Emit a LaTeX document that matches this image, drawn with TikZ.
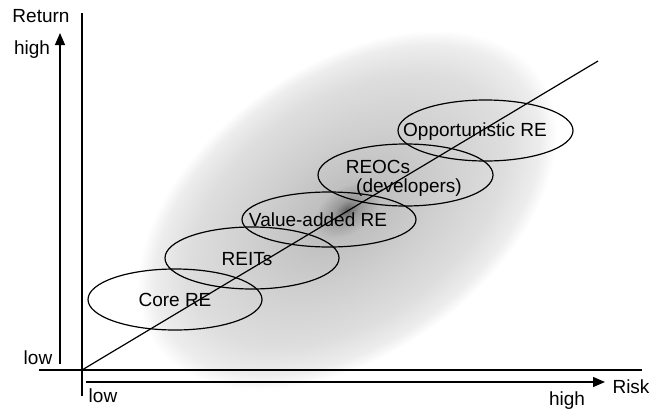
\documentclass[tikz,border=0pt]{standalone}
\usepackage{fontspec}
\setmainfont{Liberation Sans}
\usetikzlibrary{arrows.meta}

\pgfdeclareradialshading{haze}{\pgfpoint{0bp}{0bp}}{%
  color(0bp)=(black!62); color(1.5bp)=(black!40); color(4bp)=(black!25);
  color(11bp)=(black!19); color(19bp)=(black!13); color(23bp)=(black!7);
  color(25bp)=(white); color(50bp)=(white)}

\tikzset{
  axis/.style={line width=0.65pt},
  risk arrow/.style={line width=0.65pt,-{Triangle[length=6pt,width=5pt]}},
  class/.style={line width=0.6pt},
  lbl/.style={font=\fontsize{9.5}{11}\selectfont,inner sep=0pt}
}

\begin{document}
\begin{tikzpicture}[x=0.5pt,y=-0.5pt]
      \useasboundingbox (0,0) rectangle (653,413);

      % shaded cloud behind the classes
      \begin{scope}[transform canvas={shift={(347,210)},rotate=35}]
        \shade[shading=haze] (0,0) ellipse [x radius=235, y radius=145];
      \end{scope}

      % axes
      \coordinate (ytop) at (82,13);
      \coordinate (ybot) at (82,396);
      \coordinate (xleft) at (39,370);
      \coordinate (xright) at (642,370);
      \draw[axis] (ybot) -- (ytop);
      \draw[axis] (xleft) -- (xright);

      \coordinate (retlow) at (60,364);
      \coordinate (rethigh) at (60,33);
      \coordinate (risklow) at (86,382);
      \coordinate (riskhigh) at (605,382);
      \draw[risk arrow] (retlow) -- (rethigh);
      \draw[risk arrow] (risklow) -- (riskhigh);

      \node[lbl] (return) at (41,16) {Return};
      \node[lbl] (rhigh) at (32,50) {high};
      \node[lbl] (rlow) at (38,358) {low};
      \node[lbl] (klow) at (103,396) {low};
      \node[lbl] (khigh) at (567,401) {high};
      \node[lbl] (risk) at (631,387) {Risk};

      % classes
      \draw[class] (175,299.5) ellipse [x radius=87, y radius=30.5];
      \draw[class] (252,258) ellipse [x radius=87, y radius=31];
      \draw[class] (329,219.5) ellipse [x radius=87, y radius=27.5];
      \draw[class] (405.5,175) ellipse [x radius=87.5, y radius=31];
      \draw[class] (485.5,130.5) ellipse [x radius=87.5, y radius=30.5];

      \coordinate (origin) at (82,370);
      \coordinate (trend) at (598,61);
      \draw[class] (origin) -- (trend);

      \node[lbl] (core) at (175,300) {Core RE};
      \node[lbl] (reits) at (247,259) {REITs};
      \node[lbl] (value) at (318,220) {Value-added RE};
      \node[lbl] (reocs) at (378,167) {REOCs};
      \node[lbl] (devel) at (409,188) {(developers)};
      \node[lbl] (oppo) at (475,132) {Opportunistic RE};
    \end{tikzpicture}
\end{document}
